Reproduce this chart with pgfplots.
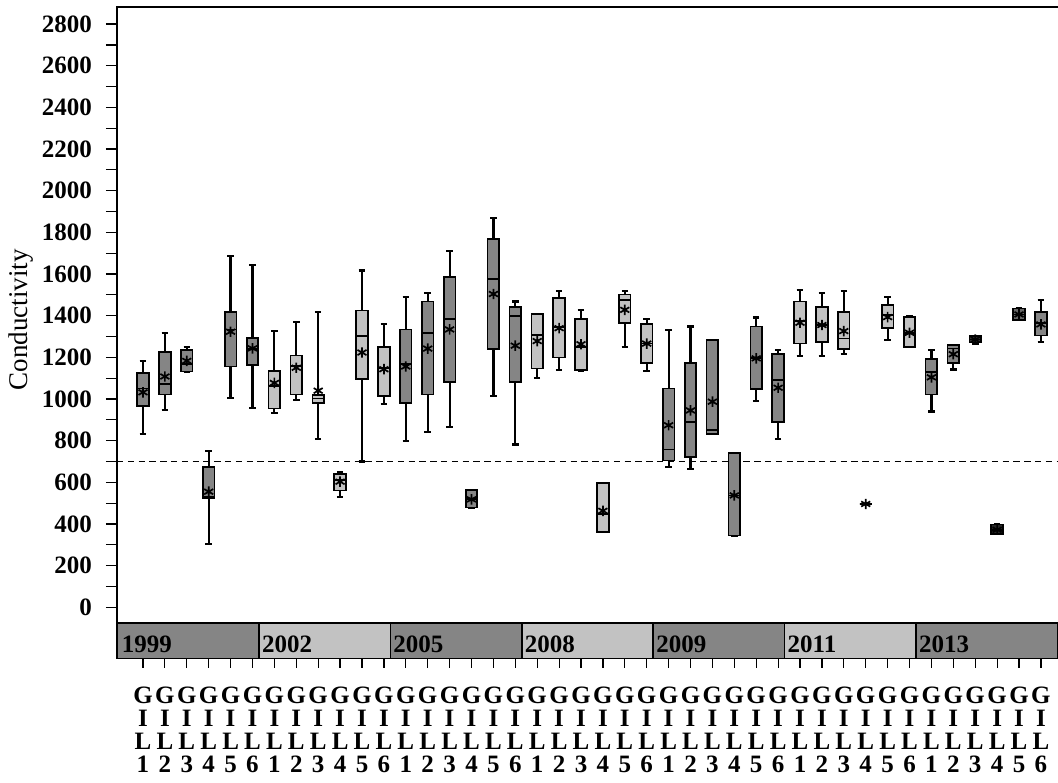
\documentclass[border=0pt]{standalone}
\usepackage{fontspec}
\setmainfont{Liberation Serif}
\usepackage{pgfplots}
\pgfplotsset{compat=1.18}
\usepgfplotslibrary{statistics}

\definecolor{boxdark}{gray}{0.52}
\definecolor{boxlight}{gray}{0.76}

% one prepared box: position, lower whisker, Q1, median, Q3, upper whisker, mean, fill
\newcommand{\gbox}[8]{%
  \addplot[boxplot prepared={draw position=#1,
      lower whisker=#2, lower quartile=#3, median=#4,
      upper quartile=#5, upper whisker=#6, average=#7},
    fill=#8, draw=black, line width=0.85pt] coordinates {};}

\begin{document}
\begin{tikzpicture}
\begin{axis}[
  name=ax,
  scale only axis,
  width=470.5pt, height=325.75pt,
  xmin=-1.187, xmax=41.78,
  ymin=-246, ymax=2882,
  enlargelimits=false,
  clip=false,
  axis line style={draw=none},
  tick align=outside,
  xtick pos=bottom, ytick pos=left,
  major tick length=5.5pt, minor tick length=5.5pt,
  tick style={line width=0.6pt, black},
  ytick={0,200,...,2800},
  minor ytick={100,300,...,2700},
  /pgf/number format/1000 sep={},
  /pgf/number format/assume math mode=true,
  yticklabel style={font=\fontsize{12.5}{14}\selectfont\bfseries, xshift=-3.5pt},
  xtick={0,...,41},
  xtick style={/pgfplots/major tick length=4.5pt},
  xticklabel style={align=center, font=\fontsize{12.5}{11.5}\selectfont\bfseries, yshift=-5pt},
  xticklabels={
    G\\I\\L\\1,G\\I\\L\\2,G\\I\\L\\3,G\\I\\L\\4,G\\I\\L\\5,G\\I\\L\\6,
    G\\I\\L\\1,G\\I\\L\\2,G\\I\\L\\3,G\\I\\L\\4,G\\I\\L\\5,G\\I\\L\\6,
    G\\I\\L\\1,G\\I\\L\\2,G\\I\\L\\3,G\\I\\L\\4,G\\I\\L\\5,G\\I\\L\\6,
    G\\I\\L\\1,G\\I\\L\\2,G\\I\\L\\3,G\\I\\L\\4,G\\I\\L\\5,G\\I\\L\\6,
    G\\I\\L\\1,G\\I\\L\\2,G\\I\\L\\3,G\\I\\L\\4,G\\I\\L\\5,G\\I\\L\\6,
    G\\I\\L\\1,G\\I\\L\\2,G\\I\\L\\3,G\\I\\L\\4,G\\I\\L\\5,G\\I\\L\\6,
    G\\I\\L\\1,G\\I\\L\\2,G\\I\\L\\3,G\\I\\L\\4,G\\I\\L\\5,G\\I\\L\\6},
  boxplot/draw direction=y,
  boxplot/box extend=0.53,
  boxplot/whisker extend=0.3,
  boxplot/every box/.style={line width=0.85pt},
  boxplot/every whisker/.style={line width=1.1pt},
  boxplot/every median/.style={line width=0.85pt},
  boxplot/every average/.style={/tikz/mark=asterisk, /tikz/mark size=2.6pt, /tikz/line width=0.8pt, /tikz/solid},
]
% reference level
\draw[line width=0.6pt, dash pattern=on 3.2pt off 2.2pt] (-1.187,700) -- (41.78,700);

% 1999
\gbox{0}{832}{965}{1051}{1126}{1183}{1032}{boxdark}
\gbox{1}{948}{1022}{1073}{1224}{1317}{1108}{boxdark}
\gbox{2}{1128}{1132}{1167}{1235}{1250}{1183}{boxdark}
\gbox{3}{305}{523}{530}{673}{749}{555}{boxdark}
\gbox{4}{1006}{1156}{1334}{1418}{1685}{1323}{boxdark}
\gbox{5}{955}{1164}{1239}{1293}{1644}{1243}{boxdark}
% 2002
\gbox{6}{932}{954}{1061}{1134}{1326}{1077}{boxlight}
\gbox{7}{997}{1022}{1157}{1209}{1369}{1150}{boxlight}
\gbox{8}{806}{981}{1003}{1018}{1418}{1040}{boxlight}
\gbox{9}{531}{561}{611}{639}{647}{603}{boxlight}
\gbox{10}{700}{1097}{1301}{1425}{1617}{1223}{boxlight}
\gbox{11}{975}{1014}{1150}{1250}{1360}{1143}{boxlight}
% 2005
\gbox{12}{798}{981}{1167}{1334}{1491}{1156}{boxdark}
\gbox{13}{840}{1022}{1317}{1468}{1509}{1242}{boxdark}
\gbox{14}{865}{1081}{1385}{1584}{1709}{1334}{boxdark}
\gbox{15}{479}{479}{520}{563}{563}{518}{boxdark}
\gbox{16}{1014}{1239}{1576}{1768}{1870}{1504}{boxdark}
\gbox{17}{781}{1081}{1399}{1442}{1468}{1256}{boxdark}
% 2008
\gbox{18}{1099}{1146}{1307}{1409}{1409}{1278}{boxlight}
\gbox{19}{1140}{1199}{1347}{1484}{1517}{1340}{boxlight}
\gbox{20}{1135}{1139}{1250}{1385}{1426}{1263}{boxlight}
\gbox{21}{361}{361}{447}{598}{598}{463}{boxlight}
\gbox{22}{1250}{1366}{1476}{1501}{1517}{1428}{boxlight}
\gbox{23}{1134}{1173}{1267}{1360}{1385}{1266}{boxlight}
% 2009
\gbox{24}{673}{704}{757}{1051}{1332}{874}{boxdark}
\gbox{25}{663}{722}{889}{1173}{1348}{945}{boxdark}
\gbox{26}{832}{832}{852}{1282}{1282}{987}{boxdark}
\gbox{27}{345}{345}{537}{739}{739}{537}{boxdark}
\gbox{28}{989}{1048}{1197}{1348}{1391}{1195}{boxdark}
\gbox{29}{806}{889}{1092}{1215}{1234}{1054}{boxdark}
% 2011
\gbox{30}{1207}{1266}{1375}{1468}{1525}{1366}{boxlight}
\gbox{31}{1207}{1275}{1355}{1442}{1507}{1355}{boxlight}
\gbox{32}{1215}{1240}{1291}{1417}{1517}{1326}{boxlight}
\gbox{33}{496}{496}{496}{496}{496}{496}{boxlight}
\gbox{34}{1283}{1340}{1404}{1452}{1491}{1393}{boxlight}
\gbox{35}{1248}{1248}{1318}{1395}{1400}{1318}{boxlight}
% 2013
\gbox{36}{940}{1021}{1128}{1191}{1234}{1104}{boxdark}
\gbox{37}{1142}{1173}{1242}{1258}{1258}{1215}{boxdark}
\gbox{38}{1265}{1271}{1286}{1301}{1301}{1285}{black!80}
\gbox{39}{352}{352}{372}{397}{397}{372}{black!85}
\gbox{40}{1379}{1379}{1406}{1434}{1434}{1406}{black!60}
\gbox{41}{1275}{1305}{1366}{1417}{1476}{1358}{boxdark}

% year strip below the plotting area
\begin{scope}[line width=0.8pt]
\filldraw[fill=boxdark]  (-1.187,-246) rectangle (5.3,-75);
\filldraw[fill=boxlight] (5.3,-246) rectangle (11.3,-75);
\filldraw[fill=boxdark]  (11.3,-246) rectangle (17.3,-75);
\filldraw[fill=boxlight] (17.3,-246) rectangle (23.3,-75);
\filldraw[fill=boxdark]  (23.3,-246) rectangle (29.3,-75);
\filldraw[fill=boxlight] (29.3,-246) rectangle (35.3,-75);
\filldraw[fill=boxdark]  (35.3,-246) rectangle (41.78,-75);
\end{scope}
\begin{scope}[every node/.style={anchor=base west, inner sep=0pt,
    font=\fontsize{12.5}{14}\selectfont\bfseries}]
\node[xshift=2.3pt] at (-1.187,-219) {1999};
\node[xshift=1.3pt] at (5.3,-219) {2002};
\node[xshift=1.3pt] at (11.3,-219) {2005};
\node[xshift=1.3pt] at (17.3,-219) {2008};
\node[xshift=1.3pt] at (23.3,-219) {2009};
\node[xshift=1.3pt] at (29.3,-219) {2011};
\node[xshift=1.3pt] at (35.3,-219) {2013};
\end{scope}

% frame: left and top edges
\draw[line width=0.7pt] (-1.187,-246) -- (-1.187,2882) -- (41.78,2882);

% axis title
\node[rotate=90, font=\fontsize{13.5}{15}\selectfont]
  at ([xshift=-48pt]-1.187,1380) {Conductivity};
\end{axis}
\pgfresetboundingbox
\path[use as bounding box] ([shift={(-58.5pt,-62.25pt)}]ax.south west)
  rectangle ([shift={(0pt,3.5pt)}]ax.north east);
\end{tikzpicture}
\end{document}
